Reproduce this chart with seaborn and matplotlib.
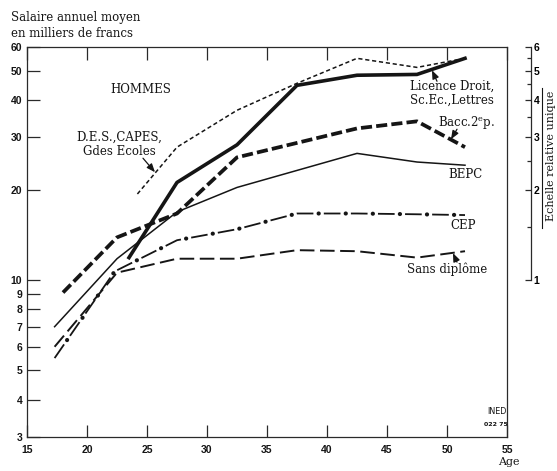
import matplotlib
matplotlib.use("Agg")
import matplotlib.pyplot as plt
import seaborn as sns
from matplotlib.ticker import FixedLocator, FixedFormatter, NullFormatter
from matplotlib.lines import Line2D

# ---------------- data ----------------
age_licence = [23.5, 27.5, 32.5, 37.5, 42.5, 47.5, 51.5]
sal_licence = [11.9, 21.2, 28.3, 44.7, 48.3, 48.6, 55.0]

age_des = [24.2, 27.5, 32.5, 37.5, 42.5, 47.5, 51.5]
sal_des = [19.4, 27.8, 36.9, 45.4, 55.0, 51.3, 55.0]

age_bacc = [18.0, 22.5, 27.5, 32.5, 42.5, 47.5, 51.5]
sal_bacc = [9.1, 13.9, 16.7, 25.7, 32.1, 33.9, 27.8]

age_bepc = [17.3, 22.5, 27.5, 32.5, 42.5, 47.5, 51.5]
sal_bepc = [7.0, 11.8, 16.9, 20.4, 26.5, 24.8, 24.2]

age_cep = [17.3, 22.3, 27.5, 32.5, 37.5, 42.5, 47.5, 51.5]
sal_cep = [5.5, 10.7, 13.6, 14.8, 16.7, 16.7, 16.6, 16.5]

age_sans = [17.3, 22.5, 27.5, 32.5, 37.5, 42.5, 47.5, 51.5]
sal_sans = [6.0, 10.6, 11.8, 11.8, 12.6, 12.5, 11.9, 12.5]

x_ticks = [15, 20, 25, 30, 35, 40, 45, 50, 55]
x_ticklabels = ["15", "20", "25", "30", "35", "40", "45", "50", "55"]
y_ticks = [3, 4, 5, 6, 7, 8, 9, 10, 20, 30, 40, 50, 60]
y_ticklabels = ["3", "4", "5", "6", "7", "8", "9", "10", "20", "30", "40", "50", "60"]
x_grid = [20, 30, 40, 50]
y_grid = [4, 6, 8, 10, 20, 40]
rel_ticks = [1, 2, 3, 4, 5, 6]
rel_minor = [1.5, 2.5, 3.5, 4.5, 5.5]

# ---------------- style ----------------
plt.rcParams["lines.scale_dashes"] = False
plt.rcParams["mathtext.fontset"] = "dejavuserif"
INK = "#151515"
GRID = "#2a2a2a"
TXT = dict(family="DejaVu Serif", size=8.5, color=INK)
TICKFONT = "Liberation Sans"

W, H = 557, 471
fig = plt.figure(figsize=(W / 100, H / 100), dpi=100)
L, R, T, B = 27, 507, 47, 437
ax = fig.add_axes([L / W, 1 - B / H, (R - L) / W, (B - T) / H])

# ---------------- lines ----------------
sns.lineplot(x=age_des, y=sal_des, ax=ax, color=INK, linewidth=1.1,
             linestyle=(0, (3.0, 2.0)))
sns.lineplot(x=age_bepc, y=sal_bepc, ax=ax, color=INK, linewidth=1.1,
             linestyle="-")
sns.lineplot(x=age_sans, y=sal_sans, ax=ax, color=INK, linewidth=1.4,
             linestyle=(0, (10.5, 4.0)))
sns.lineplot(x=age_cep, y=sal_cep, ax=ax, color=INK, linewidth=1.3,
             linestyle=(0, (12.0, 7.5)))
sns.lineplot(x=age_cep, y=sal_cep, ax=ax, color=INK, linewidth=3.0,
             linestyle=(3.75, (0.1, 19.4)), dash_capstyle="round")
sns.lineplot(x=age_bacc, y=sal_bacc, ax=ax, color=INK, linewidth=2.7,
             linestyle=(0, (8.0, 3.0)))
sns.lineplot(x=age_licence, y=sal_licence, ax=ax, color=INK, linewidth=2.6,
             linestyle="-")

# ---------------- axes ----------------
ax.set_yscale("log")
ax.set_xlim(15, 55)
ax.set_ylim(3, 60)
ax.set_xlabel("")
ax.set_ylabel("")

ax.xaxis.set_major_locator(FixedLocator(x_ticks))
ax.xaxis.set_major_formatter(FixedFormatter(x_ticklabels))
ax.xaxis.set_minor_locator(FixedLocator(x_grid))
ax.xaxis.set_minor_formatter(NullFormatter())
ax.yaxis.set_major_locator(FixedLocator(y_ticks))
ax.yaxis.set_major_formatter(FixedFormatter(y_ticklabels))
ax.yaxis.set_minor_locator(FixedLocator(y_grid))
ax.yaxis.set_minor_formatter(NullFormatter())

ax.tick_params(axis="both", which="major", direction="in", length=9,
               width=0.9, color=GRID, labelsize=7.5, labelcolor=INK)
ax.tick_params(axis="x", which="major", top=True, bottom=True, pad=6)
ax.tick_params(axis="y", which="major", left=True, right=True, pad=3.5)
ax.tick_params(axis="both", which="minor", length=0)
ax.grid(True, which="minor", color=GRID, linewidth=0.8)
ax.grid(False, which="major")
ax.set_axisbelow(True)
for s in ax.spines.values():
    s.set_color(GRID)
    s.set_linewidth(0.9)
for lab in ax.get_xticklabels() + ax.get_yticklabels():
    lab.set_family(TICKFONT)
    lab.set_weight("bold")

# ---------------- relative scale on the right ----------------
ax2 = ax.twinx()
ax2.set_yscale("log")
ax2.set_ylim(0.3, 6)
for side in ["top", "left", "bottom"]:
    ax2.spines[side].set_visible(False)
ax2.spines["right"].set_position(("axes", (531 - L) / (R - L)))
ax2.spines["right"].set_bounds(1, 6)
ax2.spines["right"].set_color(GRID)
ax2.spines["right"].set_linewidth(0.9)
ax2.yaxis.set_major_locator(FixedLocator(rel_ticks))
ax2.yaxis.set_major_formatter(FixedFormatter([str(v) for v in rel_ticks]))
ax2.yaxis.set_minor_locator(FixedLocator(rel_minor))
ax2.yaxis.set_minor_formatter(NullFormatter())
ax2.tick_params(axis="y", which="major", direction="in", length=4.5, width=0.9,
                color=GRID, labelsize=7.5, pad=2)
ax2.tick_params(axis="y", which="minor", direction="in", length=3, width=0.9,
                color=GRID)
for lab in ax2.get_yticklabels():
    lab.set_family(TICKFONT)
    lab.set_weight("bold")
ax2.grid(False)

fig.text(551.5 / W, 1 - 156 / H, "Echelle relative unique", rotation=90,
         ha="center", va="center", family="DejaVu Serif", size=8, color=INK)
fig.add_artist(Line2D([542 / W, 542 / W], [1 - 88 / H, 1 - 228 / H],
                      transform=fig.transFigure, color=INK, lw=0.8))

# ---------------- texts ----------------
def px2age(px):
    return 15 + (px - L) / 12.0


def py2sal(py):
    return 3 * 10 ** ((B - py) / 300.0)


fig.text(11 / W, 1 - 11 / H, "Salaire annuel moyen\nen milliers de francs",
         ha="left", va="top", linespacing=1.3, **TXT)
fig.text(509 / W, 1 - 462 / H, "Age", ha="center", va="center",
         family="DejaVu Serif", size=8, color=INK)

ax.text(px2age(141), py2sal(89), "HOMMES", ha="center", va="center", **TXT)
ax.text(px2age(119), py2sal(144), "D.E.S.,CAPES,\nGdes Ecoles", ha="center",
        va="center", multialignment="center", linespacing=1.15, **TXT)
ax.text(px2age(494), py2sal(93), "Licence Droit,\nSc.Ec.,Lettres", ha="right",
        va="center", multialignment="right", linespacing=1.15, **TXT)
ax.text(px2age(467), py2sal(122), r"Bacc.2$^{\mathrm{e}}$p.", ha="center",
        va="center", **TXT)
ax.text(px2age(465), py2sal(174), "BEPC", ha="center", va="center", **TXT)
ax.text(px2age(463), py2sal(225), "CEP", ha="center", va="center", **TXT)
ax.text(px2age(447), py2sal(269), "Sans diplôme", ha="center", va="center",
        **TXT)

arrow = dict(arrowstyle="-|>,head_length=0.5,head_width=0.2", color=INK,
             lw=0.9, shrinkA=0, shrinkB=0)
ax.annotate("", xy=(px2age(155), py2sal(172)), xytext=(px2age(143), py2sal(158)),
            arrowprops=arrow)
ax.annotate("", xy=(px2age(432), py2sal(70)), xytext=(px2age(437), py2sal(81)),
            arrowprops=arrow)
ax.annotate("", xy=(px2age(451), py2sal(139)), xytext=(px2age(457), py2sal(129)),
            arrowprops=arrow)
ax.annotate("", xy=(px2age(453), py2sal(253)), xytext=(px2age(457), py2sal(262)),
            arrowprops=arrow)

# INED mark
fig.text(497 / W, 1 - 411 / H, "INED", ha="center", va="center",
         family="DejaVu Sans", size=6.5, color=INK, fontstretch="condensed")
fig.text(496 / W, 1 - 424 / H, "022 75", ha="center", va="center",
         family="DejaVu Sans", size=4.5, weight="bold", color=INK)

fig.savefig("out.png", dpi=100)
